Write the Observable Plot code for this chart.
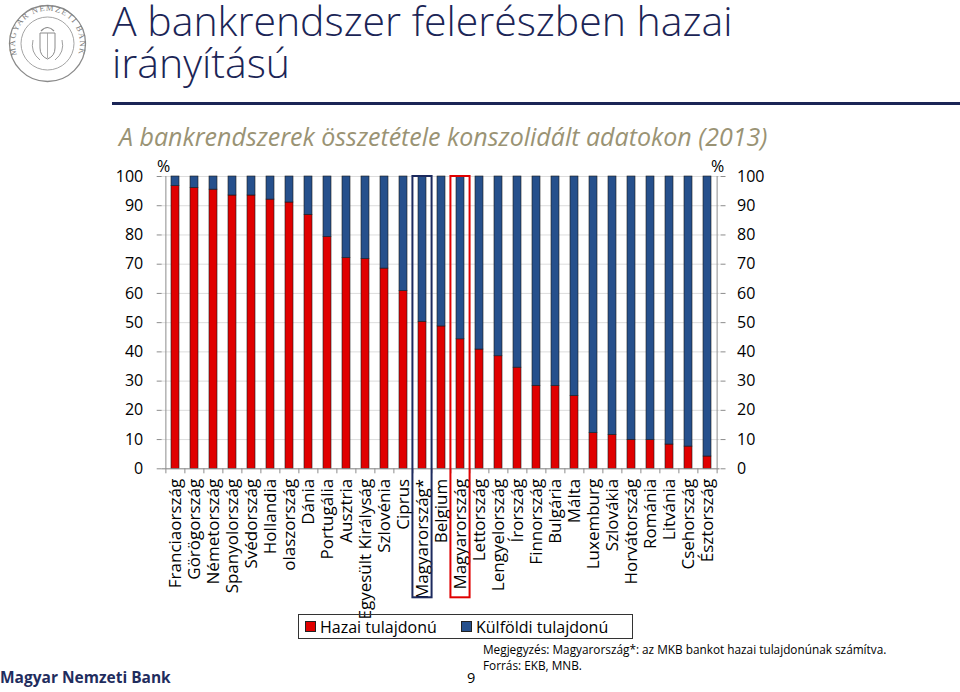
<!DOCTYPE html>
<html><head><meta charset="utf-8">
<script src="https://cdn.jsdelivr.net/npm/d3@7"></script>
<script src="https://cdn.jsdelivr.net/npm/@observablehq/plot@0.6"></script>
<style>
body{margin:0;background:#fff;font-family:"Open Sans",sans-serif;}
#page{position:relative;width:960px;height:692px;overflow:hidden;background:#fff;}
.abs{position:absolute;white-space:nowrap;}
#chart{position:absolute;left:0;top:150px;}
.title{left:112px;font-size:41px;line-height:41px;font-weight:300;color:#1b2556;}
#rule{position:absolute;left:112px;top:102px;width:848px;height:3px;background:#1b2556;}
#subtitle{left:119px;top:124px;font-size:25px;line-height:25px;font-style:italic;color:#9a9374;}
.pct{font-size:16px;line-height:16px;color:#000;top:157.8px;}
#legend{position:absolute;left:298px;top:614px;width:335px;height:25px;box-sizing:border-box;border:1px solid #333;font-size:16px;}
.lg{position:absolute;top:1px;line-height:22px;color:#000;}
.sw{position:absolute;top:6px;width:11px;height:11px;box-sizing:border-box;border:1px solid #222;}
#note{left:483px;top:643.5px;font-size:11.8px;line-height:11.8px;color:#000;}
#source{left:483px;top:659.5px;font-size:11.8px;line-height:11.8px;color:#000;}
#page9{left:467px;top:670.7px;font-size:14.5px;line-height:14.5px;color:#000;}
#mnb{left:0px;top:670px;font-size:15.5px;line-height:15.5px;font-weight:bold;color:#1f2d5e;}
</style></head><body><div id="page">
<svg class="abs" style="left:0;top:0" width="100" height="95" viewBox="0 0 100 95">
  <defs><path id="ring" d="M 18.5 58 A 32.5 32.5 0 1 1 76.5 58"/></defs>
  <circle cx="47.5" cy="43.5" r="38" fill="none" stroke="#8a8a8a" stroke-width="1.3"/>
  <circle cx="47.5" cy="43.5" r="26.5" fill="none" stroke="#9a9a9a" stroke-width="0.9"/>
  <text font-family="Liberation Serif, serif" font-size="8.5" fill="#7d7d7d" letter-spacing="1.2"><textPath href="#ring" startOffset="50%" text-anchor="middle">MAGYAR NEMZETI BANK</textPath></text>
  <path d="M 40 33 L 55 33 L 55 48 Q 55 56 47.5 59 Q 40 56 40 48 Z" fill="none" stroke="#8a8a8a" stroke-width="1"/>
  <path d="M 41 31 Q 47.5 24 54 31" fill="none" stroke="#8a8a8a" stroke-width="1.2"/>
  <line x1="47.5" y1="33" x2="47.5" y2="58" stroke="#9a9a9a" stroke-width="0.8"/>
  <path d="M 33 40 Q 30 52 40 60 M 62 40 Q 65 52 55 60" fill="none" stroke="#a0a0a0" stroke-width="1"/>
</svg>
<div class="abs title" style="top:0px">A bankrendszer felerészben hazai</div>
<div class="abs title" style="top:42px">irányítású</div>
<div id="rule"></div>
<div id="subtitle" class="abs">A bankrendszerek összetétele konszolidált adatokon (2013)</div>
<div class="abs pct" style="left:157px">%</div>
<div class="abs pct" style="left:711px">%</div>
<div id="chart"></div>
<div id="legend"></div>
<div id="note" class="abs">Megjegyzés: Magyarország*: az MKB bankot hazai tulajdonúnak számítva.</div>
<div id="source" class="abs">Forrás: EKB, MNB.</div>
<div id="page9" class="abs">9</div>
<div id="mnb" class="abs">Magyar Nemzeti Bank</div>
</div>
<script>
const countries = ["Franciaország","Görögország","Németország","Spanyolország","Svédország","Hollandia","olaszország","Dánia","Portugália","Ausztria","Egyesült Királyság","Szlovénia","Ciprus","Magyarország*","Belgium","Magyarország","Lettország","Lengyelország","Írország","Finnország","Bulgária","Málta","Luxemburg","Szlovákia","Horvátország","Románia","Litvánia","Csehország","Észtország"];
const domestic = [96.7,96.1,95.5,93.5,93.5,92.1,91.1,86.9,79.3,72.1,71.8,68.5,60.8,50.3,48.7,44.3,40.8,38.5,34.6,28.4,28.3,24.9,12.2,11.6,9.9,9.8,8.3,7.6,4.2];
const foreign = [3.3,3.9,4.5,6.5,6.5,7.9,8.9,13.1,20.7,27.9,28.2,31.5,39.2,49.7,51.3,55.7,59.2,61.5,65.4,71.6,71.7,75.1,87.8,88.4,90.1,90.2,91.7,92.4,95.8];
const seriesNames = ["Hazai tulajdonú","Külföldi tulajdonú"];
const seriesColors = ["#e00000","#26508c"];
const yTicks = [0,10,20,30,40,50,60,70,80,90,100];
const boxedNavy = ["Magyarország*"];
const boxedRed = ["Magyarország"];
const navy = "#1c2a5e";

const rows = countries.flatMap((c,i) => [
  {country:c, series:seriesNames[0], value:domestic[i]},
  {country:c, series:seriesNames[1], value:foreign[i]}
]);

const mL = 161.7, mR = 240.5, W = 960;
const step = (W - mL - mR) / countries.length;
const axisGray = "#8c8c8c";
const boxInset = -(step * 0.58) / 2;

const chart = Plot.plot({
  width: W, height: 460,
  marginTop: 26, marginBottom: 141.7, marginLeft: mL, marginRight: mR,
  style: {fontFamily: '"Open Sans", sans-serif', fontSize: "16px", color: "#000", background: "transparent", overflow: "visible"},
  x: {type: "band", domain: countries, paddingInner: 0.58, paddingOuter: 0.29, axis: null},
  y: {domain: [0, 100], axis: null},
  color: {domain: seriesNames, range: seriesColors},
  marks: [
    Plot.gridY(yTicks, {stroke: "#dcdcdc", strokeOpacity: 1}),
    Plot.barY(rows, Plot.stackY({x: "country", y: "value", fill: "series", order: seriesNames, stroke: "#1a1a1a", strokeWidth: 0.6})),
    Plot.ruleY([0], {stroke: axisGray}),
    Plot.ruleX([countries[0]], {y1: 0, y2: 100, dx: -step / 2, stroke: axisGray}),
    Plot.ruleX([countries[countries.length - 1]], {y1: 0, y2: 100, dx: step / 2, stroke: axisGray}),
    Plot.axisY(yTicks, {anchor: "left", tickSize: 5, tickPadding: 14, stroke: axisGray, fill: "#000", fontSize: 16, label: null}),
    Plot.axisY(yTicks, {anchor: "right", tickSize: 5, tickPadding: 12, stroke: axisGray, fill: "#000", fontSize: 16, label: null}),
    Plot.axisX({tickSize: 0, tickRotate: -90, tickPadding: 10, fontSize: 17, fill: "#000", label: null}),
    Plot.axisX({tickSize: 5, tickFormat: () => "", dx: -step / 2, stroke: axisGray, label: null}),
    Plot.axisX([countries[countries.length - 1]], {tickSize: 5, tickFormat: () => "", dx: step / 2, stroke: axisGray, label: null}),
    Plot.barY(boxedNavy, {x: d => d, y1: 0, y2: 100, fill: "none", stroke: navy, strokeWidth: 2, insetLeft: boxInset, insetRight: boxInset, insetBottom: -129}),
    Plot.barY(boxedRed, {x: d => d, y1: 0, y2: 100, fill: "none", stroke: "#e00000", strokeWidth: 2, insetLeft: boxInset, insetRight: boxInset, insetBottom: -129})
  ]
});
document.getElementById("chart").appendChild(chart);

const legend = document.getElementById("legend");
const legendPos = [{sw: 6, tx: 21}, {sw: 162, tx: 177}];
seriesNames.forEach((name, i) => {
  const s = document.createElement("div");
  s.className = "sw"; s.style.left = legendPos[i].sw + "px"; s.style.background = seriesColors[i];
  legend.appendChild(s);
  const t = document.createElement("div");
  t.className = "lg"; t.style.left = legendPos[i].tx + "px"; t.textContent = name;
  legend.appendChild(t);
});
</script>
</body></html>
